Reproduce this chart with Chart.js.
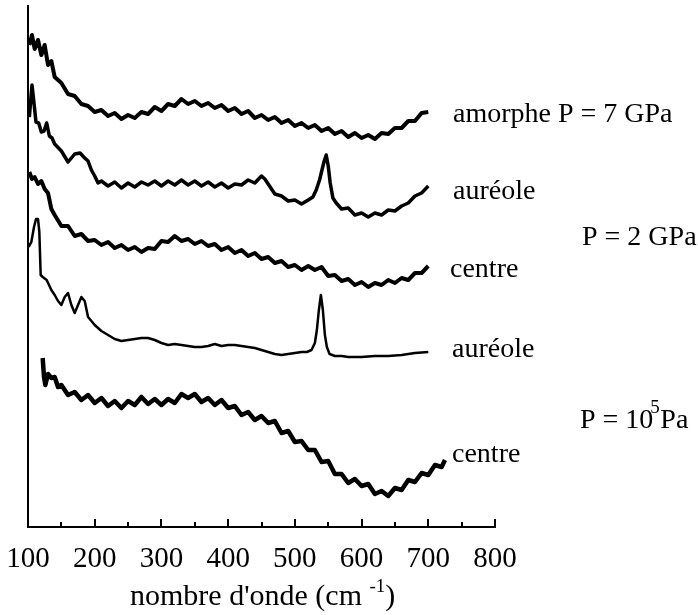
<!DOCTYPE html>
<html lang="fr">
<head>
<meta charset="utf-8">
<title>Spectres Raman</title>
<script src="https://cdn.jsdelivr.net/npm/chart.js@4/dist/chart.umd.min.js"></script>
<style>
  html, body { margin: 0; padding: 0; background: #fff; }
  #spectres { display: block; }
</style>
</head>
<body>
<canvas id="spectres" width="698" height="615"></canvas>
<script>
// graduations de l'axe des nombres d'onde (cm-1)
const graduations = [100, 200, 300, 400, 500, 600, 700, 800];
const graduationsMineures = [150, 250, 350, 450, 550, 650, 750];

// amorphe P = 7 GPa
const ondeAmorphe = [102, 106, 110, 115, 120, 125, 130, 135, 140,
  150, 160, 170, 180, 190, 200, 210, 220, 230, 240, 250, 260, 270, 280, 290, 300,
  310, 320, 330, 340, 350, 360, 370, 380, 390, 400, 410, 420, 430, 440, 450, 460,
  470, 480, 490, 500, 510, 520, 530, 540, 550, 560, 570, 580, 590, 600, 610, 620,
  630, 640, 650, 660, 670, 680, 690, 700];
const intAmorphe = [482, 492, 478, 487, 472, 482, 462, 466, 450,
  444, 433, 431, 423, 421, 415, 417, 411, 414, 408, 412, 409, 415, 413, 420, 416,
  423, 421, 428, 423, 426, 421, 424, 419, 422, 416, 419, 413, 416, 409, 412, 407,
  410, 404, 407, 401, 404, 399, 402, 396, 399, 393, 396, 390, 394, 389, 392, 388,
  394, 393, 399, 399, 406, 406, 414, 415];

// P = 2 GPa, auréole
const ondeAureole2 = [102, 106, 108, 112, 116, 120, 124, 128, 132, 136,
  140, 150, 160, 170, 178, 185, 190, 195, 200, 205,
  210, 220, 230, 240, 250, 260, 270, 280, 290, 300,
  310, 320, 330, 340, 350, 360, 370, 380, 390, 400,
  410, 420, 430, 440, 450, 455, 460, 470, 480, 490,
  500, 510, 520, 527, 532, 537, 541, 544, 547, 550,
  553, 557, 562, 570, 580, 590, 600, 610, 620, 630,
  640, 650, 660, 670, 680, 690, 700];
const intAureole2 = [410, 442, 430, 405, 404, 395, 396, 404, 391, 389,
  383, 376, 365, 373, 374, 369, 366, 357, 351, 344,
  346, 341, 345, 339, 344, 340, 345, 342, 346, 341,
  346, 342, 347, 342, 346, 341, 345, 340, 344, 339,
  343, 342, 347, 344, 351, 348, 343, 333, 331, 326,
  327, 323, 327, 330, 337, 347, 358, 366, 372, 361,
  344, 329, 324, 318, 319, 312, 314, 310, 314, 312,
  317, 316, 321, 324, 331, 334, 341];

// P = 2 GPa, centre
const ondeCentre2 = [102, 106, 110, 115, 120, 125, 130, 135, 140,
  150, 160, 170, 180, 190, 200, 210, 220, 230, 240, 250, 260, 270, 280, 290, 300,
  310, 320, 330, 340, 350, 360, 370, 380, 390, 400, 410, 420, 430, 440, 450, 460,
  470, 480, 490, 500, 510, 520, 530, 540, 550, 560, 570, 580, 590, 600, 610, 620,
  630, 640, 650, 660, 670, 680, 690, 700];
const intCentre2 = [355, 348, 350, 343, 346, 338, 334, 318, 312,
  301, 301, 291, 293, 286, 287, 282, 285, 279, 282, 277, 280, 275, 279, 278, 286,
  285, 291, 286, 288, 283, 286, 281, 283, 277, 280, 274, 277, 271, 274, 268, 270,
  264, 266, 260, 262, 257, 261, 257, 260, 251, 252, 246, 248, 242, 245, 240, 244,
  242, 247, 244, 249, 247, 254, 254, 261];

// P = 10^5 Pa, auréole
const ondeAureole5 = [101, 105, 109, 112, 115, 117, 119, 122, 128, 135,
  140, 145, 150, 155, 160, 165, 170, 175, 180, 185,
  190, 200, 210, 220, 230, 240, 250, 260, 270, 280,
  290, 300, 310, 320, 330, 340, 350, 360, 370, 380,
  390, 400, 410, 420, 430, 440, 450, 460, 470, 480,
  490, 500, 510, 518, 525, 530, 533, 536, 539, 542,
  545, 548, 552, 560, 570, 580, 590, 600, 620, 640,
  660, 680, 700];
const intAureole5 = [280, 285, 300, 308, 308, 295, 252, 250, 247, 237,
  232, 226, 222, 230, 234, 222, 214, 222, 230, 226,
  210, 202, 196, 192, 188, 186, 187, 188, 189, 189,
  187, 184, 182, 183, 182, 181, 180, 180, 181, 183,
  181, 182, 182, 181, 180, 179, 177, 175, 173, 172,
  173, 174, 175, 175, 177, 184, 197, 217, 232, 217,
  192, 180, 173, 171, 171, 170, 170, 170, 171, 171,
  172, 174, 175];

// P = 10^5 Pa, centre
const ondeCentre5 = [122, 124, 126, 130, 135, 140, 145, 150,
  160, 170, 180, 190, 200, 210, 220, 230, 240, 250, 260, 270, 280, 290, 300, 310,
  320, 330, 340, 350, 360, 370, 380, 390, 400, 410, 420, 430, 440, 450, 460, 470,
  480, 490, 500, 510, 520, 530, 540, 550, 560, 570, 580, 590, 600, 610, 620, 630,
  640, 650, 660, 670, 680, 690, 700, 710, 720, 725];
const intCentre5 = [169, 150, 142, 153, 149, 150, 140, 142,
  132, 135, 127, 132, 124, 129, 121, 126, 119, 126, 122, 130, 123, 128, 122, 128,
  124, 133, 129, 133, 125, 129, 122, 127, 119, 121, 112, 115, 107, 111, 104, 106,
  94, 96, 85, 86, 77, 77, 65, 66, 53, 53, 44, 48, 41, 43, 33, 36,
  31, 39, 37, 47, 45, 54, 52, 62, 60, 67];

const police = "'Liberation Serif', 'DejaVu Serif', serif";

function spectre(xs, ys, epaisseur) {
    return {
        data: xs.map((x, i) => ({ x: x, y: ys[i] })),
        borderColor: '#000',
        borderWidth: epaisseur,
        borderJoinStyle: 'round',
        pointRadius: 0,
        tension: 0,
        fill: false
    };
}

// graduations internes et légendes à droite
const annotations = {
    id: 'annotations',
    afterDraw(chart) {
        const ctx = chart.ctx;
        const xs = chart.scales.x;
        const bas = chart.chartArea.bottom;
        ctx.save();
        ctx.strokeStyle = '#000';
        ctx.lineWidth = 2;
        graduations.concat(graduationsMineures).forEach(v => {
            const px = Math.round(xs.getPixelForValue(v));
            const h = graduations.includes(v) ? 8 : 5;
            ctx.beginPath();
            ctx.moveTo(px, bas);
            ctx.lineTo(px, bas - h);
            ctx.stroke();
        });

        ctx.fillStyle = '#000';
        ctx.textBaseline = 'alphabetic';
        ctx.textAlign = 'left';
        ctx.font = '28px ' + police;
        ctx.fillText('amorphe P = 7 GPa', 453, 122);
        ctx.fillText('auréole', 453, 199);
        ctx.fillText('P = 2 GPa', 582, 245);
        ctx.fillText('centre', 450, 277);
        ctx.fillText('auréole', 452, 357);
        ctx.fillText('centre', 452, 462);

        const debut = 'P = 10 ';
        const w = ctx.measureText(debut).width;
        ctx.fillText(debut, 580, 428);
        ctx.fillText('Pa', 580 + w, 428);
        ctx.font = '19px ' + police;
        ctx.fillText('5', 580 + w - 10, 413);

        // titre de l'axe
        ctx.font = '30px ' + police;
        const t1 = "nombre d'onde (cm ";
        const w1 = ctx.measureText(t1).width;
        ctx.fillText(t1, 130, 605);
        ctx.font = '19px ' + police;
        const t2 = '-1';
        const w2 = ctx.measureText(t2).width;
        ctx.fillText(t2, 130 + w1, 592);
        ctx.font = '30px ' + police;
        ctx.fillText(')', 130 + w1 + w2, 605);
        ctx.restore();
    }
};

new Chart(document.getElementById('spectres').getContext('2d'), {
    type: 'line',
    data: {
        datasets: [
            spectre(ondeAmorphe, intAmorphe, 4),
            spectre(ondeAureole2, intAureole2, 3.5),
            spectre(ondeCentre2, intCentre2, 4),
            spectre(ondeAureole5, intAureole5, 2.5),
            spectre(ondeCentre5, intCentre5, 4.5)
        ]
    },
    options: {
        responsive: false,
        animation: false,
        devicePixelRatio: 1,
        layout: { padding: { left: 28, right: 203, top: 6, bottom: 0 } },
        plugins: {
            legend: { display: false },
            tooltip: { enabled: false }
        },
        scales: {
            x: {
                type: 'linear',
                min: 100,
                max: 800,
                afterBuildTicks: s => { s.ticks = graduations.map(v => ({ value: v })); },
                afterFit: s => { s.height = 88; s.paddingLeft = 0; s.paddingRight = 0; },
                grid: { display: false, drawTicks: false },
                border: { display: true, color: '#000', width: 2 },
                ticks: {
                    color: '#000',
                    padding: 15,
                    maxRotation: 0,
                    autoSkip: false,
                    font: { family: police, size: 29 }
                }
            },
            y: {
                min: 0,
                max: 521,
                afterFit: s => { s.width = 0; s.paddingTop = 0; s.paddingBottom = 0; },
                grid: { display: false, drawTicks: false },
                border: { display: true, color: '#000', width: 2 },
                ticks: { display: false }
            }
        }
    },
    plugins: [annotations]
});
</script>
</body>
</html>
